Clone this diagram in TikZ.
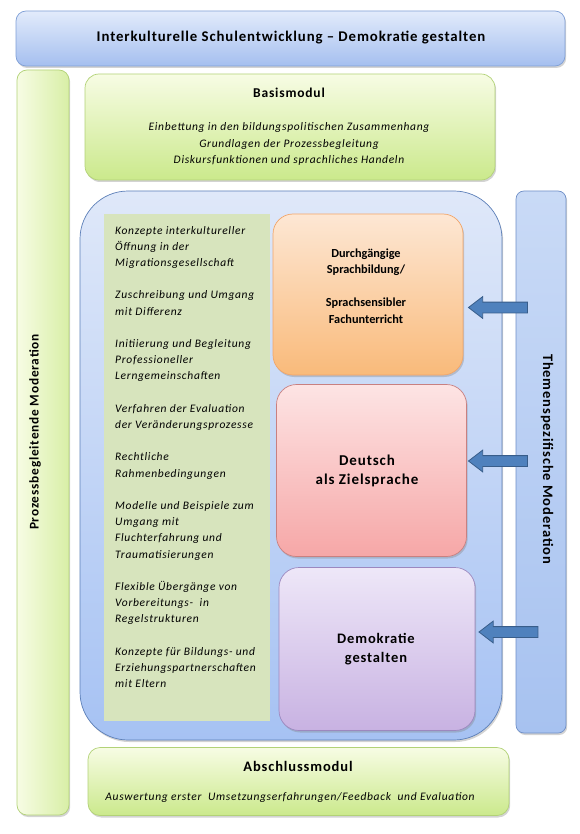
\documentclass[tikz,border=0pt]{standalone}
\usepackage{fontspec}
\setmainfont{Carlito}
\newfontfamily\cw[LetterSpace=6]{Carlito}
\usetikzlibrary{shapes.arrows,shadows}
\definecolor{titleT}{HTML}{E2EBFB}
\definecolor{titleB}{HTML}{A5BFEF}
\definecolor{titleD}{HTML}{7F9FD6}
\definecolor{grnT}{HTML}{F7FCE4}
\definecolor{grnB}{HTML}{CBE98C}
\definecolor{grnD}{HTML}{B2D277}
\definecolor{bigT}{HTML}{DFE8F9}
\definecolor{bigB}{HTML}{A6C2F3}
\definecolor{bigD}{HTML}{5C7FB8}
\definecolor{panel}{HTML}{D7E4BD}
\definecolor{orT}{HTML}{FDE7D4}
\definecolor{orB}{HTML}{F9BA7A}
\definecolor{orD}{HTML}{F2A66A}
\definecolor{rdT}{HTML}{FDE4E4}
\definecolor{rdB}{HTML}{F6A7A7}
\definecolor{rdD}{HTML}{C98080}
\definecolor{puT}{HTML}{EEE7F8}
\definecolor{puB}{HTML}{C8B2E2}
\definecolor{puD}{HTML}{9C88BF}
\definecolor{rvT}{HTML}{C9DAF6}
\definecolor{rvB}{HTML}{A7C2F0}
\definecolor{rvD}{HTML}{6F8FC7}
\definecolor{arrF}{HTML}{4F81BD}
\definecolor{arrD}{HTML}{385D8A}
\tikzset{
  box/.style={rounded corners=10pt, line width=0.7pt, inner sep=0pt,
    drop shadow={shadow xshift=1.2pt, shadow yshift=-2pt, opacity=0.35}},
  bigarrow/.style={single arrow, shape border rotate=180, fill=arrF, draw=arrD,
    line width=0.8pt, minimum height=59pt, minimum width=21pt, inner sep=5pt,
    single arrow head extend=5.5pt, single arrow tip angle=75},
  boldtxt/.style={font=\bfseries\fontsize{12.3}{16.5}\selectfont, align=center},
  bigbold/.style={font=\cw\bfseries\fontsize{14.5}{19}\selectfont, align=center},
  ittxt/.style={font=\cw\itshape\fontsize{11.5}{16.2}\selectfont}
}
\begin{document}
\begin{tikzpicture}[x=1pt,y=-1pt]
\useasboundingbox (0,0) rectangle (580,834);
% title
\node[box, top color=titleT, bottom color=titleB, draw=titleD,
  minimum width=549pt, minimum height=55pt] (title) at (290.5,38.5) {};
\node[font=\cw\bfseries\fontsize{14.8}{17}\selectfont] (titletxt) at (291,37.5)
  {Interkulturelle Schulentwicklung \textendash{} Demokratie gestalten};
% left bar
\node[box, left color=grnT, right color=grnB!70!grnT, draw=grnD,
  minimum width=52pt, minimum height=745pt] (left) at (43,442.5) {};
\node[rotate=90, font=\cw\bfseries\fontsize{13.3}{15}\selectfont] (lefttxt) at (35,432)
  {Prozessbegleitende Moderation};
% Basismodul
\node[box, rounded corners=14pt, top color=grnT, bottom color=grnB, draw=grnD,
  minimum width=410pt, minimum height=106pt] (basis) at (290,127) {};
\node[font=\cw\bfseries\fontsize{13.5}{16}\selectfont] (basistitle) at (289,93) {Basismodul};
\node[ittxt, align=center] (basistxt) at (289,144)
  {Einbettung in den bildungspolitischen Zusammenhang\\
   Grundlagen der Prozessbegleitung\\
   Diskursfunktionen und sprachliches Handeln};
% big blue
\node[box, rounded corners=48pt, top color=bigT, bottom color=bigB, draw=bigD,
  minimum width=422pt, minimum height=549pt] (big) at (291,465.5) {};
% right vertical
\node[box, rounded corners=8pt, top color=rvT, bottom color=rvB, draw=rvD,
  minimum width=50pt, minimum height=542pt] (right) at (541,462) {};
\node[rotate=-90, font=\cw\bfseries\fontsize{14.5}{16}\selectfont] (righttxt) at (547,459)
  {Themenspezifische Moderation};
% panel
\node[fill=panel, minimum width=166pt, minimum height=506pt, inner sep=0pt] (panel) at (187,467.5) {};
\node[ittxt, align=left, anchor=north west, inner sep=0pt] (paneltxt) at (115,226)
  {Konzepte interkultureller\\
   Öffnung in der\\
   Migrationsgesellschaft\\[16.2pt]
   Zuschreibung und Umgang\\
   mit Differenz\\[16.2pt]
   Initiierung und Begleitung\\
   Professioneller\\
   Lerngemeinschaften\\[16.2pt]
   Verfahren der Evaluation\\
   der Veränderungsprozesse\\[16.2pt]
   Rechtliche\\
   Rahmenbedingungen\\[16.2pt]
   Modelle und Beispiele zum\\
   Umgang mit\\
   Fluchterfahrung und\\
   Traumatisierungen\\[16.2pt]
   Flexible Übergänge von\\
   Vorbereitungs-\ \ in\\
   Regelstrukturen\\[16.2pt]
   Konzepte für Bildungs- und\\
   Erziehungspartnerschaften\\
   mit Eltern};
% orange
\node[box, rounded corners=20pt, top color=orT, bottom color=orB, draw=orD,
  minimum width=190pt, minimum height=161pt] (orange) at (368,294.5) {};
\node[boldtxt] (orangetxt) at (366,286)
  {Durchgängige\\ Sprachbildung/\\[16.5pt] Sprachsensibler\\ Fachunterricht};
% red
\node[box, rounded corners=20pt, top color=rdT, bottom color=rdB, draw=rdD,
  minimum width=190pt, minimum height=172pt] (red) at (371.5,470.5) {};
\node[bigbold, font=\cw\bfseries\fontsize{15}{19}\selectfont] (redtxt) at (367,471) {Deutsch\\ als Zielsprache};
% purple
\node[box, rounded corners=20pt, top color=puT, bottom color=puB, draw=puD,
  minimum width=196pt, minimum height=163pt] (purple) at (377,649) {};
\node[bigbold] (purpletxt) at (376,649) {Demokratie\\ gestalten};
% arrows
\node[bigarrow] (a1) at (501.5,307.5) {};
\node[bigarrow] (a2) at (501.5,461) {};
\node[bigarrow] (a3) at (512,632) {};
% Abschluss
\node[box, rounded corners=12pt, top color=grnT, bottom color=grnB, draw=grnD,
  minimum width=421pt, minimum height=68pt] (absch) at (298.5,781.5) {};
\node[font=\cw\bfseries\fontsize{14.5}{17}\selectfont] (abschtitle) at (298,766) {Abschlussmodul};
\node[ittxt] (abschtxt) at (290,797)
  {Auswertung erster\ \ Umsetzungserfahrungen/Feedback\ \ und Evaluation};
\end{tikzpicture}
\end{document}
